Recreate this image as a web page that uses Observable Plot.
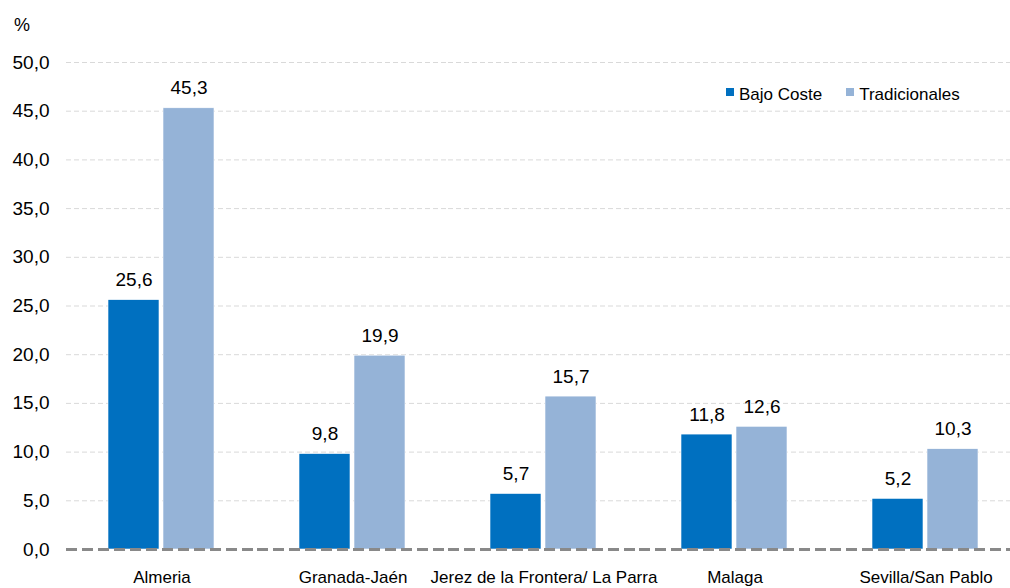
<!DOCTYPE html>
<html>
<head>
<meta charset="utf-8">
<script src="https://cdn.jsdelivr.net/npm/d3@7"></script>
<script src="https://cdn.jsdelivr.net/npm/@observablehq/plot@0.6"></script>
<style>
  body { margin: 0; background: #fff; }
  #wrap { position: relative; width: 1010px; height: 588px; font-family: "Liberation Sans", Arial, sans-serif; color: #000; }
  #unit { position: absolute; left: 14px; top: 15px; font-size: 18px; }
  #legend { position: absolute; left: 726px; top: 85px; font-size: 17px; display: flex; align-items: center; }
  #legend .sw { display: inline-block; width: 8px; height: 8px; margin-right: 5px; position: relative; top: -3px; }
  #legend .item { display: flex; align-items: center; margin-right: 24px; }
</style>
</head>
<body>
<div id="wrap">
  <div id="unit">%</div>
  <div id="legend"></div>
</div>
<script>
const categories = ["Almeria", "Granada-Jaén", "Jerez de la Frontera/ La Parra", "Malaga", "Sevilla/San Pablo"];
const series = ["Bajo Coste", "Tradicionales"];
const bajoCoste = [25.6, 9.8, 5.7, 11.8, 5.2];
const tradicionales = [45.3, 19.9, 15.7, 12.6, 10.3];
const yTicks = [0, 5, 10, 15, 20, 25, 30, 35, 40, 45, 50];
const colors = ["#0070C0", "#95B3D7"];

const data = [];
categories.forEach((c, i) => {
  data.push({city: c, serie: series[0], value: bajoCoste[i]});
  data.push({city: c, serie: series[1], value: tradicionales[i]});
});
const fmt = d => d.toFixed(1).replace(".", ",");

const chart = Plot.plot({
  width: 1010,
  height: 588,
  marginLeft: 64,
  marginRight: -13,
  marginTop: 62,
  marginBottom: 39,
  style: {fontFamily: '"Liberation Sans", Arial, sans-serif', fontSize: "17px", color: "#000", background: "#fff", overflow: "visible"},
  fx: {domain: categories, padding: 0, label: null},
  x: {domain: series, paddingInner: 0.072, paddingOuter: 0.764, axis: null},
  y: {domain: [0, 50], ticks: yTicks, label: null},
  color: {domain: series, range: colors},
  marks: [
    Plot.ruleY(yTicks.filter(d => d > 0), {stroke: "#d9d9d9", strokeWidth: 1, strokeDasharray: "5,3"}),
    Plot.barY(data, {fx: "city", x: "serie", y: "value", fill: "serie", stroke: "#fff", strokeWidth: 0.6}),
    Plot.text(data, {fx: "city", x: "serie", y: "value", text: d => fmt(d.value), dy: -14, lineAnchor: "bottom", fontSize: 19, fill: "#000"}),
    Plot.ruleY([0], {stroke: "#898989", strokeWidth: 3, strokeDasharray: "11,5"}),
    Plot.axisY({ticks: yTicks, tickFormat: fmt, tickSize: 0, tickPadding: 17, fontSize: 19, label: null}),
    Plot.axisFx({anchor: "bottom", tickSize: 0, tickPadding: 21, fontSize: 17, label: null})
  ]
});
document.getElementById("wrap").appendChild(chart);

const legend = document.getElementById("legend");
series.forEach((s, i) => {
  const item = document.createElement("span");
  item.className = "item";
  const sw = document.createElement("span");
  sw.className = "sw";
  sw.style.background = colors[i];
  item.appendChild(sw);
  item.appendChild(document.createTextNode(s));
  legend.appendChild(item);
});
</script>
</body>
</html>
